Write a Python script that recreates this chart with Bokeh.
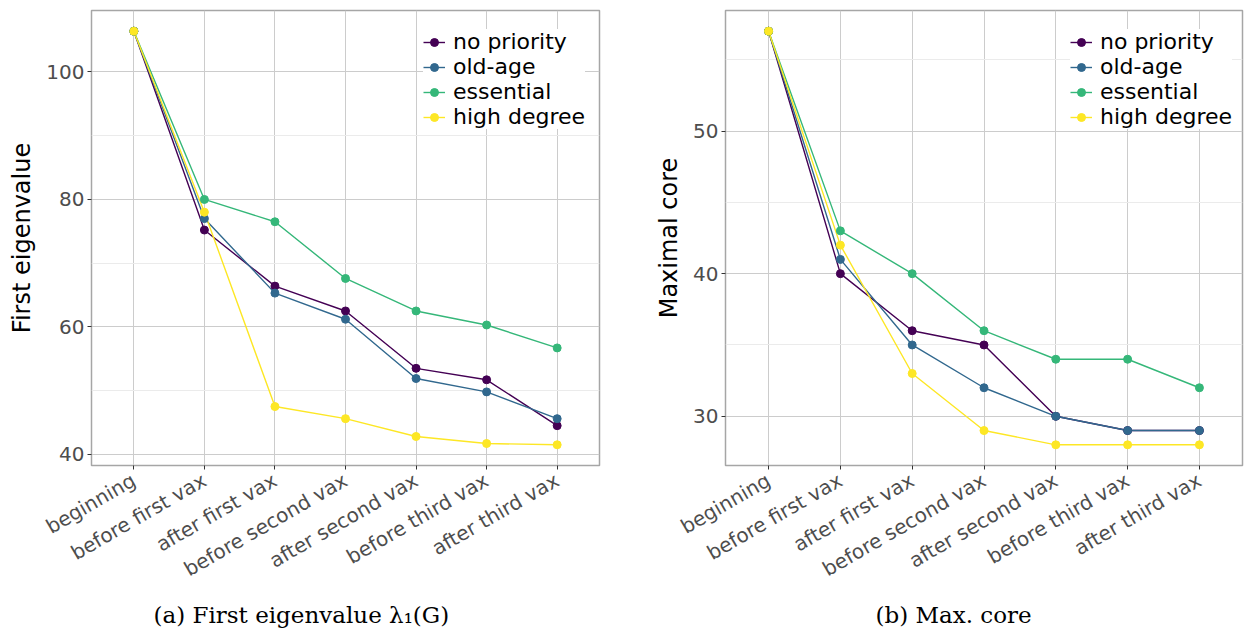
import math
from bokeh.plotting import figure
from bokeh.models import FixedTicker, Title
from bokeh.layouts import row
from bokeh.embed import file_html
from bokeh.resources import INLINE

stages = ["beginning", "before first vax", "after first vax", "before second vax",
          "after second vax", "before third vax", "after third vax"]
series = ["no priority", "old-age", "essential", "high degree"]
colors = ["#440154", "#31688E", "#35B779", "#FDE725"]

eig_no_priority = [106.4, 75.2, 66.4, 62.5, 53.5, 51.7, 44.5]
eig_old_age = [106.4, 77.0, 65.3, 61.2, 51.9, 49.8, 45.6]
eig_essential = [106.4, 80.0, 76.5, 67.6, 62.5, 60.3, 56.7]
eig_high_degree = [106.4, 78.0, 47.5, 45.6, 42.8, 41.7, 41.5]

core_no_priority = [57, 40, 36, 35, 30, 29, 29]
core_old_age = [57, 41, 35, 32, 30, 29, 29]
core_essential = [57, 43, 40, 36, 34, 34, 32]
core_high_degree = [57, 42, 33, 29, 28, 28, 28]

eig_ticks = [40, 60, 80, 100]
eig_minor = [50, 70, 90]
core_ticks = [30, 40, 50]
core_minor = [35, 45, 55]


def make_panel(values, ylab, yr, ticks, minor, caption, width, mbl, mbr, cap_offset, leg_loc):
    p = figure(width=width, height=636, x_range=(-0.6, 6.6), y_range=yr,
               output_backend="svg", toolbar_location=None,
               min_border_left=mbl, min_border_right=mbr, min_border_top=10,
               min_border_bottom=171)
    xs = list(range(len(stages)))
    for vals, name, c in zip(values, series, colors):
        p.line(xs, vals, line_color=c, line_width=1.4, legend_label=name)
    for vals, name, c in zip(values, series, colors):
        p.scatter(xs, vals, size=8, fill_color=c, line_color=c, legend_label=name)

    xt = FixedTicker(ticks=xs)
    p.xaxis.ticker = xt
    p.xgrid.ticker = xt
    p.xaxis.major_label_overrides = {i: s for i, s in enumerate(stages)}
    p.xaxis.major_label_orientation = math.pi / 6
    yt = FixedTicker(ticks=ticks, minor_ticks=minor)
    p.yaxis.ticker = yt
    p.ygrid.ticker = yt
    p.axis.minor_tick_line_color = None
    p.axis.axis_line_color = None
    p.axis.major_tick_line_color = "#333333"
    p.axis.major_tick_out = 4
    p.axis.major_tick_in = 0
    p.yaxis.major_label_standoff = 3
    p.xaxis.major_label_standoff = 9
    p.axis.major_label_text_font = "DejaVu Sans"
    p.axis.major_label_text_font_size = "20px"
    p.axis.major_label_text_color = "#4d4d4d"
    p.yaxis.axis_label = ylab
    p.yaxis.axis_label_text_font = "DejaVu Sans"
    p.yaxis.axis_label_text_font_size = "24px"
    p.yaxis.axis_label_text_font_style = "normal"
    p.yaxis.axis_label_text_color = "black"
    p.yaxis.axis_label_standoff = 7

    p.xgrid.grid_line_color = "#cccccc"
    p.ygrid.grid_line_color = "#cccccc"
    p.ygrid.minor_grid_line_color = "#ebebeb"
    p.outline_line_color = "#a6a6a6"
    p.outline_line_width = 1.5

    lg = p.legend[0]
    lg.location = leg_loc
    lg.label_text_font = "DejaVu Sans"
    lg.label_text_font_size = "22px"
    lg.label_text_color = "black"
    lg.border_line_color = None
    lg.background_fill_alpha = 1.0
    lg.glyph_width = 22
    lg.glyph_height = 20
    lg.label_height = 24
    lg.spacing = 0
    lg.padding = 12
    lg.margin = 0
    lg.label_standoff = 8

    p.add_layout(Title(text=caption, align="left", offset=cap_offset,
                       text_font="DejaVu Serif", text_font_size="23px",
                       text_font_style="normal", text_color="black"), "below")
    return p


p1 = make_panel([eig_no_priority, eig_old_age, eig_essential, eig_high_degree],
                "First eigenvalue", (38.25, 109.65), eig_ticks, eig_minor,
                "(a) First eigenvalue \u03bb\u2081(G)", 620, 91, 21, 62, (332, 336))
p2 = make_panel([core_no_priority, core_old_age, core_essential, core_high_degree],
                "Maximal core", (26.55, 58.45), core_ticks, core_minor,
                "(b) Max. core", 624, 105, 2, 150, (345, 336))

layout = row(p1, p2)
open("out.html", "w").write(file_html(layout, INLINE))
